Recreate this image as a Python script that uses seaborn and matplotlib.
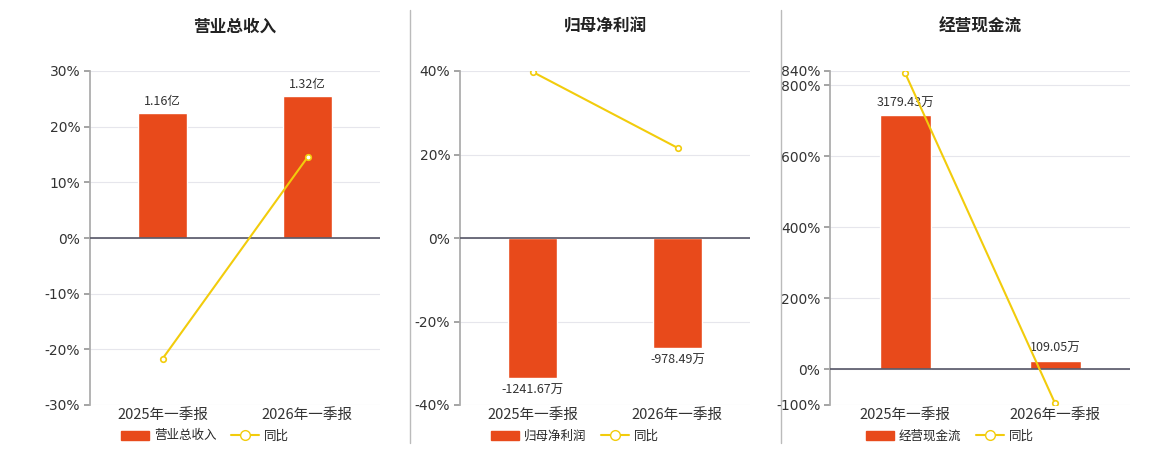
import numpy as np
import pandas as pd
import matplotlib
matplotlib.use("Agg")
import matplotlib.pyplot as plt
from matplotlib.lines import Line2D
from matplotlib.patches import Patch
import seaborn as sns

periods = ["2025年一季报", "2026年一季报"]
titles = ["营业总收入", "归母净利润", "经营现金流"]
bar_values = [[1.16, 1.32], [-1241.67, -978.49], [3179.43, 109.05]]
bar_labels = [["1.16亿", "1.32亿"], ["-1241.67万", "-978.49万"], ["3179.43万", "109.05万"]]
yoy = [[-21.7, 14.5], [39.8, 21.6], [835.0, -95.0]]
pct_ticks = [[-30, -20, -10, 0, 10, 20, 30], [-40, -20, 0, 20, 40], [-100, 0, 200, 400, 600, 800, 840]]
pct_lim = [(-30, 30), (-40, 40), (-100, 840)]
# percent level that first bar top reaches in the picture
bar_pct_ref = [22.4, -33.5, 715.0]

sns.set_theme(style="white")
plt.rcParams['font.family'] = ['Noto Sans CJK SC', 'DejaVu Sans']

BAR = "#E84A1B"
LINE = "#F2CC0C"

fig = plt.figure(figsize=(11.6, 4.5), dpi=100)
lefts = [90, 460, 830]
widths = [290, 290, 300]
for i in range(3):
    ax = fig.add_axes([lefts[i] / 1160, 45 / 450, widths[i] / 1160, 334 / 450])
    lo, hi = pct_lim[i]

    # bars on a hidden twin axis
    ax2 = ax.twinx()
    k = bar_values[i][0] / bar_pct_ref[i]
    df = pd.DataFrame({"period": periods, "value": bar_values[i]})
    sns.barplot(data=df, x="period", y="value", ax=ax2, color=BAR, width=0.34, saturation=1)
    ax2.set_ylim(lo * k, hi * k)
    ax2.set_yticks([])
    ax2.set_ylabel("")
    ax2.xaxis.set_visible(False)
    for s in ax2.spines.values():
        s.set_visible(False)
    ax2.bar_label(ax2.containers[0], labels=bar_labels[i], fontsize=9, color="#333333", padding=4)
    ax2.axhline(0, color="#555566", linewidth=1.2)

    # line on another twin sharing percent scale
    ax3 = ax.twinx()
    ldf = pd.DataFrame({"x": [0, 1], "y": yoy[i]})
    sns.lineplot(data=ldf, x="x", y="y", ax=ax3, color=LINE, linewidth=1.5, marker="o",
                 markersize=4, markerfacecolor="white", markeredgecolor=LINE, markeredgewidth=1.2)
    ax3.set_ylim(lo, hi)
    ax3.set_yticks([])
    ax3.set_ylabel("")
    ax3.xaxis.set_visible(False)
    for s in ax3.spines.values():
        s.set_visible(False)

    ax.set_ylim(lo, hi)
    ax.set_xlim(-0.5, 1.5)
    ax.set_yticks(pct_ticks[i])
    ax.set_yticklabels([f"{t}%" for t in pct_ticks[i]], fontsize=10, color="#333333",
                       family=['DejaVu Sans'])
    ax.yaxis.grid(True, color="#e6e6ec", linewidth=0.8)
    ax.set_xticks([0, 1])
    ax.set_xticklabels(periods, fontsize=10.5, color="#333333")
    ax.tick_params(axis="x", length=0, pad=2)
    ax.tick_params(axis="y", length=4, color="#999999", left=True, pad=3)
    for s in ["top", "right", "bottom"]:
        ax.spines[s].set_visible(False)
    ax.spines["left"].set_color("#aaaaaa")
    ax.set_title(titles[i], fontsize=12, fontweight="bold", pad=28, color="#222222")

    handles = [Patch(facecolor=BAR, edgecolor=BAR),
               Line2D([0], [0], color=LINE, marker="o", markerfacecolor="white", markersize=7, linewidth=1.5)]
    fig.legend(handles, [titles[i], "同比"], loc="center",
               bbox_to_anchor=((lefts[i] + widths[i] / 2 - 30) / 1160, 1 - 436 / 450),
               ncol=2, frameon=False, fontsize=9, handlelength=2.2, columnspacing=1.2,
               handletextpad=0.4)

for xs in [410, 781]:
    fig.add_artist(Line2D([xs / 1160, xs / 1160], [7 / 450, 440 / 450], color="#bbbbbb", linewidth=1))

fig.savefig("out.png", dpi=100)
